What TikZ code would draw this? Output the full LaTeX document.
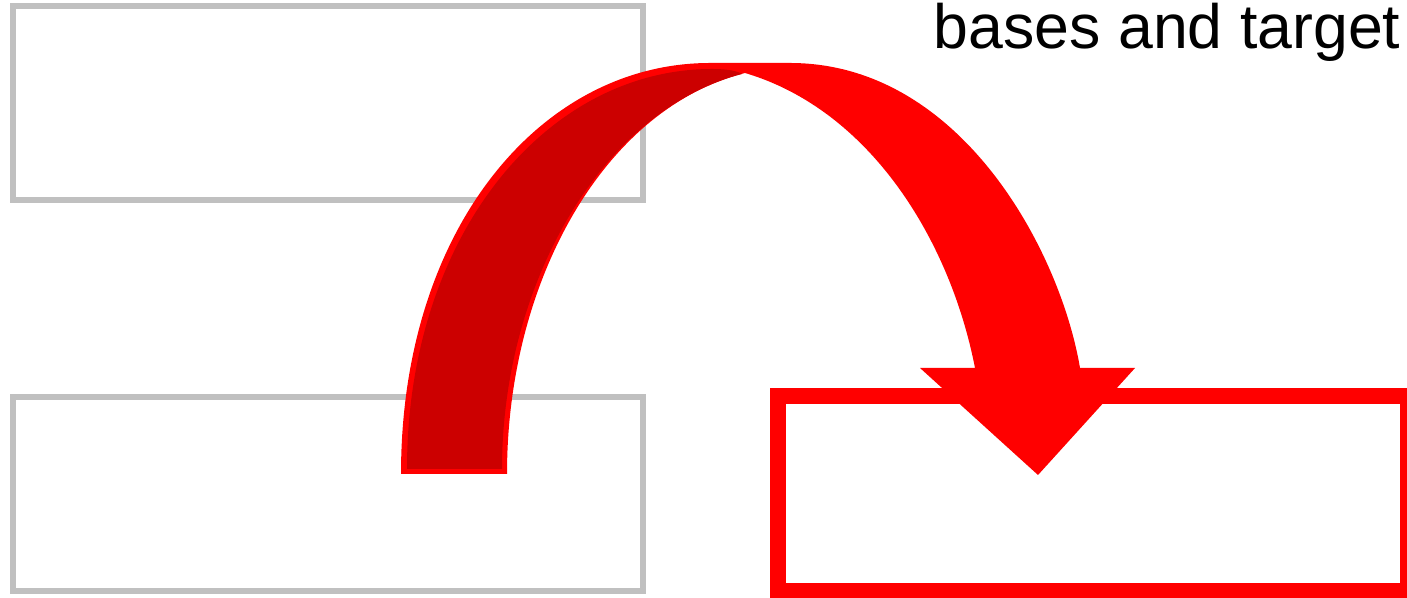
\documentclass[tikz,border=0pt]{standalone}
\usepackage{fontspec}
\setmainfont{Liberation Sans}
\usetikzlibrary{positioning}
\definecolor{boxgray}{RGB}{192,192,192}
\definecolor{arcred}{RGB}{255,0,0}
\definecolor{arcdark}{RGB}{204,0,0}
\begin{document}
\begin{tikzpicture}[x=0.01cm,y=-0.01cm,
    basebox/.style={draw=boxgray,line width=1.7pt,minimum width=6.3cm,
      minimum height=1.94cm,inner sep=0pt},
    targetbox/.style={draw=arcred,line width=4.55pt,minimum width=6.3cm,
      minimum height=1.95cm,inner sep=0pt}]
  \useasboundingbox (0,0) rectangle (1407,598);
  % Bases
  \node[basebox] (base1) at (328,103) {};
  \node[basebox] (base2) at (328,494) {};
  % Target
  \node[targetbox] (target) at (1093,493.5) {};
  % Caption
  \node[anchor=base east,inner sep=0pt,font=\fontsize{17.8}{20}\selectfont]
    (caption) at (1401,49) {bases and target};
  % Arc arrow: full outline
  \fill[arcred] (401,474) .. controls (401,230) and (540,63) .. (710,63)
    -- (790,63) .. controls (960,63) and (1060,250) .. (1080,368)
    -- (1135,368) -- (1038,475) -- (920,368) -- (975,368)
    .. controls (950,240) and (870,110) .. (745,73)
    .. controls (605,108) and (507,280) .. (507,474) -- cycle;
  % Arc arrow: rising part
  \fill[arcdark] (407,469) .. controls (407,236) and (546,69) .. (712,69)
    .. controls (728,69) and (737,71) .. (742,74)
    .. controls (603,110) and (502,282) .. (502,469) -- cycle;
\end{tikzpicture}
\end{document}
